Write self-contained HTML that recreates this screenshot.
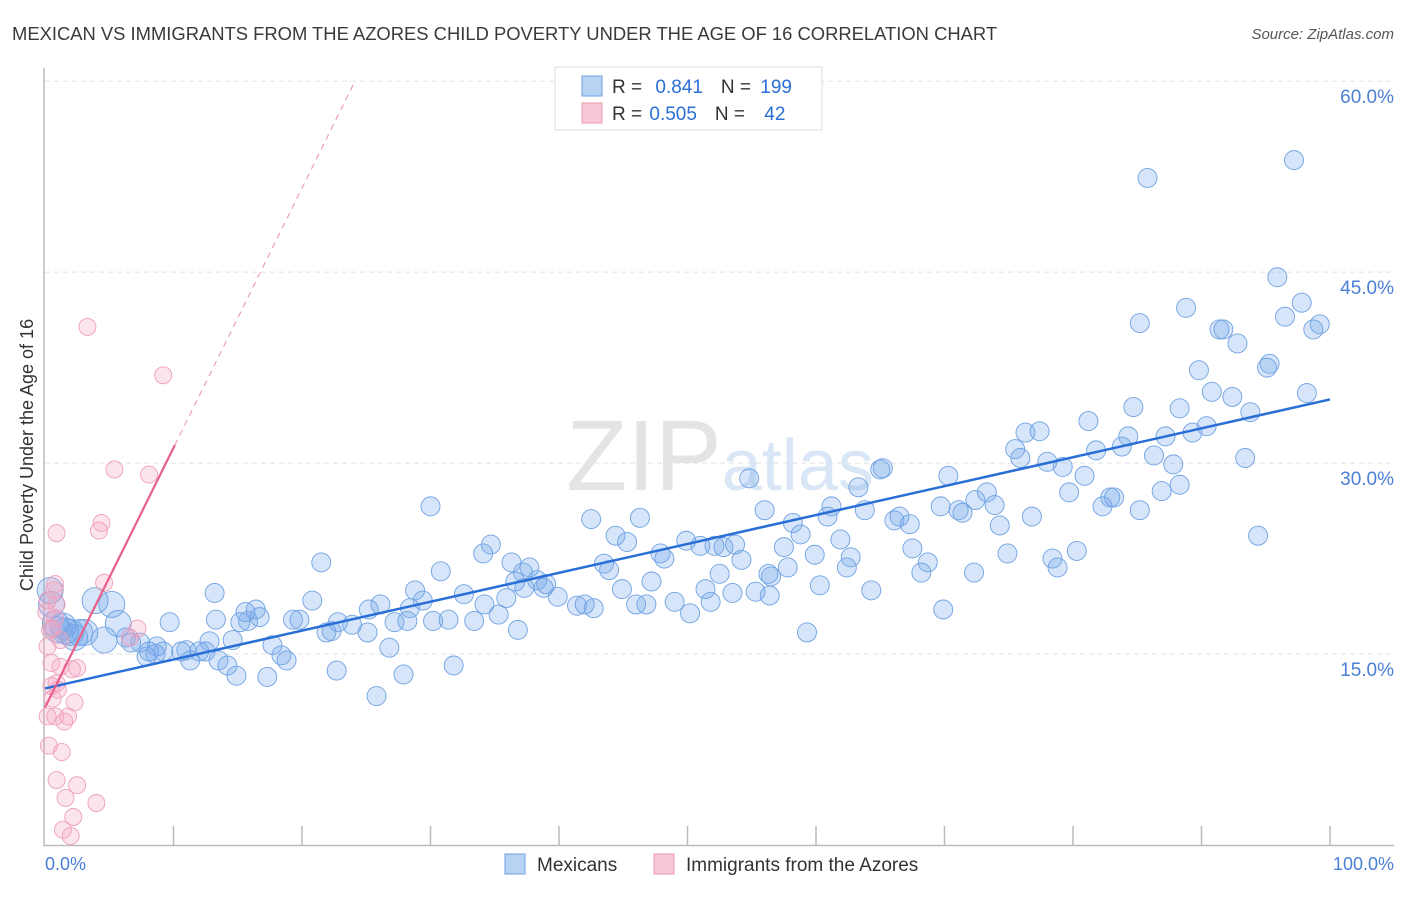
<!DOCTYPE html>
<html><head><meta charset="utf-8">
<style>
body{margin:0;background:#fff;font-family:"Liberation Sans",sans-serif;}
svg text{font-family:"Liberation Sans",sans-serif;}
</style></head>
<body>
<svg id="chart" width="1406" height="892" viewBox="0 0 1406 892" xmlns="http://www.w3.org/2000/svg">
<text x="12" y="40" font-size="18.4" fill="#3a3a3a">MEXICAN VS IMMIGRANTS FROM THE AZORES CHILD POVERTY UNDER THE AGE OF 16 CORRELATION CHART</text>
<text x="1394" y="39" font-size="15" fill="#555" text-anchor="end" font-style="italic">Source: ZipAtlas.com</text>
<g id="grid"></g>
<text x="720" y="490" font-size="96" fill="#e4e4e4" text-anchor="middle" font-family="Liberation Serif"><tspan font-size="100">ZIP</tspan><tspan font-family="Liberation Sans" font-size="72" fill="#d8e6f6">atlas</tspan></text>
<g id="axes"></g>
<g id="pts-blue"></g>
<g id="pts-pink"></g>
<g id="lines"></g>
<text transform="translate(33,455) rotate(-90)" font-size="18" fill="#333" text-anchor="middle">Child Poverty Under the Age of 16</text>
<text x="45" y="870" font-size="18" fill="#4a7fd6">0.0%</text>
<text x="1394" y="870" font-size="18" fill="#4a7fd6" text-anchor="end">100.0%</text>
<g>
<rect x="555" y="67" width="267" height="63" fill="#fff" stroke="#ddd"/>
<rect x="582" y="76" width="20" height="20" fill="#b8d2f4" stroke="#6ea0e0"/>
<rect x="582" y="103" width="20" height="20" fill="#f8c8d6" stroke="#e89ab2"/>
<text x="612" y="93" font-size="19" fill="#333">R = <tspan fill="#2a6fd6" dx="8">0.841</tspan><tspan dx="18">N = </tspan><tspan fill="#2a6fd6" dx="4">199</tspan></text>
<text x="612" y="120" font-size="19" fill="#333">R = <tspan fill="#2a6fd6" dx="2">0.505</tspan><tspan dx="18">N = </tspan><tspan fill="#2a6fd6" dx="14">42</tspan></text>
</g>
<g>
<rect x="505" y="854" width="20" height="20" fill="#b8d2f4" stroke="#6ea0e0"/>
<text x="537" y="871" font-size="19" fill="#333">Mexicans</text>
<rect x="654" y="854" width="20" height="20" fill="#f8c8d6" stroke="#e89ab2"/>
<text x="686" y="871" font-size="19" fill="#333">Immigrants from the Azores</text>
</g>
</svg>
<script>
const yTicks=[15,30,45,60];
const yTickLabels=["15.0%","30.0%","45.0%","60.0%"];
const xTicks=[0,10,20,30,40,50,60,70,80,90,100];
const blueX=[97.2,85.8,95.9,88.8,85.2,97.8,96.5,99.2,98.7,91.4,91.7,92.8,89.8,95.3,95.1,90.8,92.4,98.2,84.7,93.8,81.2,88.3,76.3,77.4,84.3,87.2,89.3,90.4,81.8,83.8,75.5,75.9,78.0,79.2,86.3,87.8,93.4,80.9,70.3,79.7,82.9,83.2,86.9,73.3,72.4,69.7,71.1,71.4,73.9,82.3,76.8,74.3,65.0,65.2,63.3,61.2,60.9,63.8,66.1,66.5,67.3,56.0,54.8,58.2,58.8,61.9,62.7,62.4,59.9,57.5,57.8,56.5,52.1,52.8,53.7,54.2,49.9,51.0,47.9,48.2,42.5,46.3,44.4,45.3,43.5,43.9,44.9,47.2,51.4,53.5,51.8,55.3,56.4,52.5,56.3,60.3,64.3,67.5,68.7,68.2,69.9,72.3,74.9,78.4,78.8,80.3,94.4,85.2,88.3,59.3,50.2,49.0,46.8,46.0,41.4,42.7,42.0,39.9,38.8,39.0,38.3,37.3,36.6,37.2,37.7,36.3,34.7,34.1,30.8,30.0,28.8,29.4,28.4,30.2,31.4,33.4,32.6,34.2,35.3,36.8,35.9,27.2,28.2,26.1,25.2,25.1,23.9,22.8,22.3,21.9,20.8,21.5,19.3,19.8,17.7,16.7,16.4,15.8,15.6,13.3,13.2,12.5,12.8,12.0,11.0,11.3,10.6,9.7,9.2,8.7,7.9,8.1,8.6,7.4,6.7,6.3,5.7,5.2,3.9,4.6,3.1,2.7,2.3,2.0,1.6,1.4,1.0,0.8,0.5,0.4,14.2,14.9,17.3,18.4,18.8,22.7,25.8,27.9,31.8,26.8,13.5,14.6,15.2];
const blueY=[53.8,52.4,44.6,42.2,41.0,42.6,41.5,40.9,40.5,40.5,40.5,39.4,37.3,37.8,37.5,35.6,35.2,35.5,34.4,34.0,33.3,34.3,32.4,32.5,32.1,32.1,32.4,32.9,31.0,31.3,31.1,30.4,30.1,29.7,30.6,29.9,30.4,29.0,29.0,27.7,27.3,27.3,27.8,27.7,27.1,26.6,26.3,26.1,26.7,26.6,25.8,25.1,29.5,29.6,28.1,26.6,25.8,26.3,25.5,25.8,25.2,26.3,28.8,25.3,24.4,24.0,22.6,21.8,22.8,23.4,21.8,21.1,23.5,23.4,23.6,22.4,23.9,23.5,22.9,22.5,25.6,25.7,24.3,23.8,22.1,21.6,20.1,20.7,20.1,19.8,19.1,19.9,19.6,21.3,21.3,20.4,20.0,23.3,22.2,21.4,18.5,21.4,22.9,22.5,21.8,23.1,24.3,26.3,28.3,16.7,18.2,19.1,18.9,18.9,18.8,18.6,18.9,19.5,20.2,20.5,20.8,20.2,20.7,21.4,21.8,22.2,23.6,22.9,21.5,26.6,20.0,19.2,18.6,17.6,17.7,17.6,19.7,18.9,18.1,16.9,19.4,17.5,17.6,18.9,18.5,16.7,17.3,17.5,16.8,16.7,19.2,22.2,17.7,17.7,15.7,17.9,18.5,17.6,18.3,17.7,19.8,15.2,16.0,15.2,15.3,14.5,15.2,17.5,15.2,15.6,14.8,15.2,15.0,15.9,15.9,16.3,17.4,18.9,19.2,16.1,16.7,16.7,16.3,16.7,16.8,17.2,16.9,17.4,18.9,20.0,14.1,13.3,13.2,14.9,14.5,13.7,11.7,13.4,14.1,15.5,14.5,16.1,17.5];
const pinkX=[3.3,9.2,5.4,8.1,4.4,4.2,0.9,0.8,0.7,0.9,4.6,7.2,6.6,0.8,1.2,0.2,0.5,1.2,2.5,2.1,0.5,0.9,0.6,2.3,0.2,0.8,1.8,1.5,0.3,1.3,0.9,2.5,4.0,1.6,2.2,1.4,2.0,0.1,0.4,1.0,0.2,0.6];
const pinkY=[40.7,36.9,29.5,29.1,25.3,24.7,24.5,20.5,20.0,18.9,20.6,17.0,16.3,17.8,16.1,15.6,14.3,14.0,13.9,13.8,12.5,12.7,11.5,11.2,10.1,10.1,10.1,9.7,7.8,7.3,5.1,4.7,3.3,3.7,2.2,1.2,0.7,18.3,16.9,12.2,19.2,17.0];
const blueTrend=[12.3,35.0];
const pinkTrend=[10.8,2.04];
const pinkSolidEnd=10.1;

const X0=45,X1=1330,YB=845,YS=12.73;
const sx=v=>X0+v*(X1-X0)/100;
const sy=v=>YB-v*YS;
const NS="http://www.w3.org/2000/svg";
function mk(tag,attrs,parent){const e=document.createElementNS(NS,tag);for(const k in attrs)e.setAttribute(k,attrs[k]);parent.appendChild(e);return e;}
const grid=document.getElementById('grid'),axes=document.getElementById('axes');
yTicks.forEach((t,i)=>{
  const l=mk('line',{x1:45,x2:1394,y1:sy(t),y2:sy(t),stroke:'#e2e2e2','stroke-dasharray':'5,4'},grid);
  
  
  const tx=mk('text',{x:1394,y:sy(t)+22,'font-size':19,fill:'#4a7fd6','text-anchor':'end'},grid);
  tx.textContent=yTickLabels[i];
  
  
});
const ya=mk('line',{x1:44,x2:44,y1:68,y2:846,stroke:'#bbb','stroke-width':1.5},axes);


const xa=mk('line',{x1:44,x2:1394,y1:845.5,y2:845.5,stroke:'#bbb','stroke-width':1.5},axes);


xTicks.forEach(t=>{if(t===0)return;
  const l=mk('line',{x1:sx(t),x2:sx(t),y1:826,y2:845,stroke:'#bbb','stroke-width':1.5},axes);
  
  
});
const gb=document.getElementById('pts-blue');
blueX.forEach((x,i)=>{
  const c=mk('circle',{cx:sx(x),cy:sy(blueY[i]),r:x<6?13:9.5,fill:'rgba(120,170,235,0.3)',stroke:'#6fa2e2','stroke-width':0.9},gb);
  
  
});
const gp=document.getElementById('pts-pink');
pinkX.forEach((x,i)=>{
  const c=mk('circle',{cx:sx(x),cy:sy(pinkY[i]),r:8.5,fill:'rgba(245,165,195,0.3)',stroke:'#eea0ba','stroke-width':0.9},gp);
  
  
});
const gl=document.getElementById('lines');
const bl=mk('line',{x1:sx(0),y1:sy(blueTrend[0]),x2:sx(100),y2:sy(blueTrend[1]),stroke:'#2a6fd6','stroke-width':2.5},gl);


const pf=x=>pinkTrend[0]+pinkTrend[1]*x;
const pl=mk('line',{x1:sx(0),y1:sy(pf(0)),x2:sx(pinkSolidEnd),y2:sy(pf(pinkSolidEnd)),stroke:'#e8608a','stroke-width':2.2},gl);


const xEnd=(60-pinkTrend[0])/pinkTrend[1];
const pd=mk('line',{x1:sx(pinkSolidEnd),y1:sy(pf(pinkSolidEnd)),x2:sx(xEnd),y2:sy(60),stroke:'#eaa0b8','stroke-width':1.2,'stroke-dasharray':'6,5'},gl);


</script>
</body></html>
